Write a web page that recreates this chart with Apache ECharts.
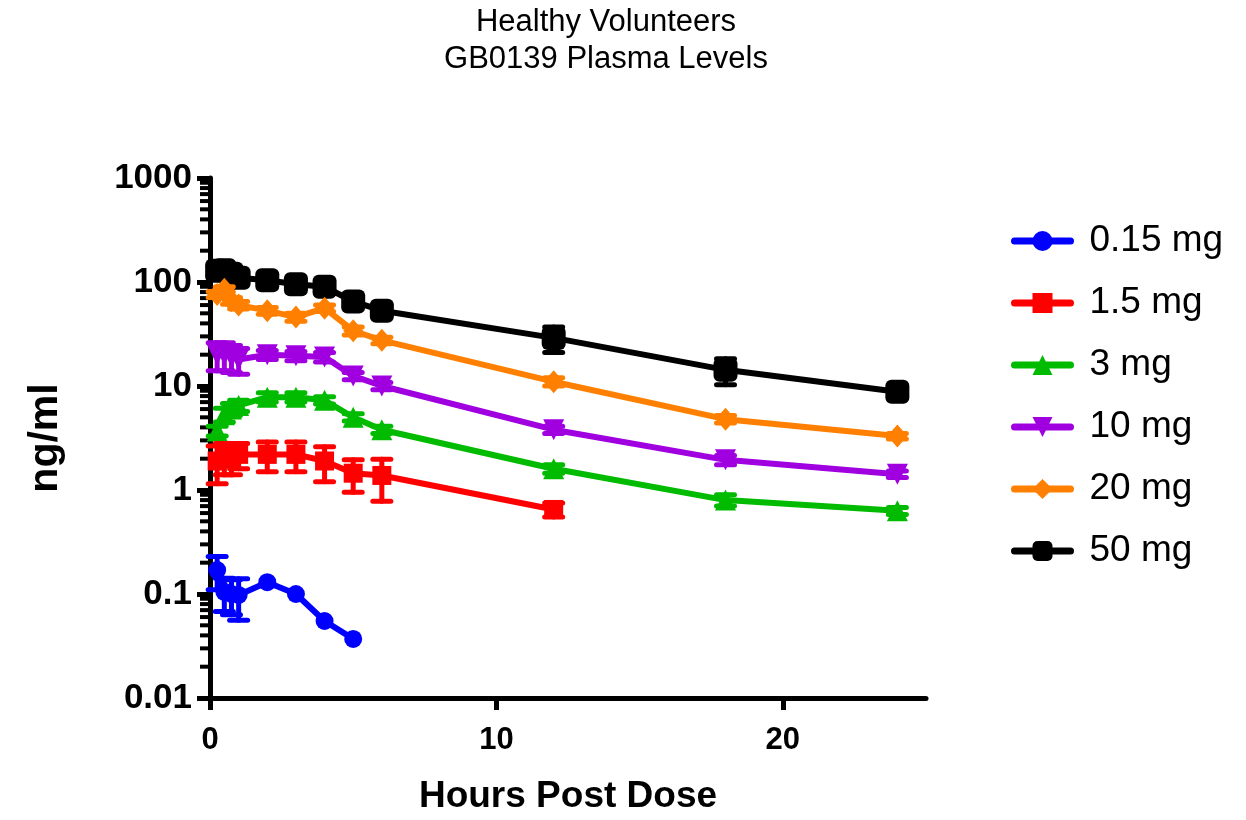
<!DOCTYPE html>
<html>
<head>
<meta charset="utf-8">
<title>GB0139 Plasma Levels</title>
<script src="https://cdn.jsdelivr.net/npm/echarts@6/dist/echarts.min.js"></script>
<style>
  html, body { margin: 0; padding: 0; background: #fff; }
  #chart { width: 1246px; height: 820px; }
</style>
</head>
<body>
<div id="chart"></div>
<script>
// sampling times (hours post dose)
const times = [0.25, 0.5, 0.75, 1, 2, 3, 4, 5, 6, 12, 18, 24];
const doseNames = ['0.15 mg', '1.5 mg', '3 mg', '10 mg', '20 mg', '50 mg'];

// mean plasma levels (ng/ml) and SD per dose
const mean015 = [0.17, 0.105, 0.10, 0.098, 0.13, 0.10, 0.055, 0.037];
const sd015 = [0.06, 0.037, 0.037, 0.042, 0, 0, 0, 0];
const mean15 = [1.9, 2.1, 2.0, 2.2, 2.2, 2.2, 1.9, 1.45, 1.38, 0.65];
const sd15 = [0.75, 0.7, 0.6, 0.6, 0.7, 0.7, 0.7, 0.5, 0.6, 0.1];
const mean3 = [3.7, 5.3, 6.0, 6.5, 7.8, 7.8, 7.3, 5.0, 3.8, 1.6, 0.8, 0.63];
const sd3 = [0.4, 0.8, 0.8, 0.8, 0.8, 0.8, 0.6, 0.4, 0.3, 0.15, 0.1, 0.05];
const mean10 = [20, 20, 19, 18, 20, 19.5, 19, 12.5, 10, 3.8, 1.95, 1.42];
const sd10 = [6, 6, 5.5, 5, 2, 2, 2, 1, 0.8, 0.3, 0.2, 0.1];
const mean20 = [76, 85, 66, 60, 53, 46, 56, 34, 27.5, 11, 4.8, 3.3];
const sd20 = [5, 5, 5, 5, 4, 4, 4, 3, 2, 1, 0.4, 0.2];
const mean50 = [128, 130, 120, 110, 104, 95, 90, 65, 53, 29, 14.3, 8.8];
const sd50 = [12, 12, 10, 10, 8, 8, 8, 7, 7, 8, 4, 1];

const xTicks = [0, 10, 20];
const yMin = 0.01, yMax = 1000;

const colors = ['#0000ff', '#ff0000', '#00bb00', '#a000e0', '#ff8000', '#000000'];
const symbols = ['circle', 'rect', 'triangle', 'triangle', 'diamond', 'roundRect'];
const symbolSizes = [18, 19, 21, 21, [20, 23], 24];
const symbolRotates = [0, 0, 0, 180, 0, 0];
const means = [mean015, mean15, mean3, mean10, mean20, mean50];
const sds = [sd015, sd15, sd3, sd10, sd20, sd50];

// minor ticks at 2..9 of each decade
const minorTicks = [];
for (let d = -2; d < 3; d++) {
  for (let k = 2; k <= 9; k++) minorTicks.push(+(k * Math.pow(10, d)).toPrecision(3));
}

const font = "'Liberation Sans', Arial, sans-serif";

const chart = echarts.init(document.getElementById('chart'));

const series = [];
means.forEach((m, i) => {
  const z = 10 - i;
  series.push({
    name: doseNames[i],
    type: 'line',
    data: m.map((v, j) => [times[j], v]),
    symbol: symbols[i],
    symbolSize: symbolSizes[i],
    symbolRotate: symbolRotates[i],
    showAllSymbol: true,
    color: colors[i],
    lineStyle: { width: 6, color: colors[i] },
    itemStyle: { color: colors[i] },
    z: z,
    animation: false
  });
  // error bars (mean ± SD)
  series.push({
    type: 'custom',
    z: z,
    silent: true,
    data: m.map((v, j) => [times[j], v - sds[i][j], v + sds[i][j]]).filter((r, j) => sds[i][j] > 0),
    encode: { x: 0, y: [1, 2] },
    renderItem: function (params, api) {
      const lo = api.coord([api.value(0), api.value(1)]);
      const hi = api.coord([api.value(0), api.value(2)]);
      const w = 9;
      const st = { stroke: colors[i], lineWidth: 5, lineCap: 'round' };
      return {
        type: 'group',
        children: [
          { type: 'line', shape: { x1: lo[0], y1: lo[1], x2: hi[0], y2: hi[1] }, style: st },
          { type: 'line', shape: { x1: lo[0] - w, y1: lo[1], x2: lo[0] + w, y2: lo[1] }, style: st },
          { type: 'line', shape: { x1: hi[0] - w, y1: hi[1], x2: hi[0] + w, y2: hi[1] }, style: st }
        ]
      };
    },
    animation: false
  });
});

// minor ticks on the log axis
series.push({
  type: 'custom',
  silent: true,
  data: minorTicks.map(v => [0, v]),
  encode: { x: 0, y: 1 },
  renderItem: function (params, api) {
    const p = api.coord([0, api.value(1)]);
    return {
      type: 'line',
      shape: { x1: p[0] - 10, y1: p[1], x2: p[0], y2: p[1] },
      style: { stroke: '#000', lineWidth: 4 }
    };
  },
  z: 1,
  animation: false
});

chart.setOption({
  backgroundColor: '#fff',
  textStyle: { fontFamily: font },
  title: {
    text: 'Healthy Volunteers\nGB0139 Plasma Levels',
    left: 601,
    top: -1,
    textAlign: 'center',
    textStyle: { fontSize: 31, fontWeight: 'normal', color: '#000', lineHeight: 37, fontFamily: font }
  },
  legend: {
    data: doseNames,
    orient: 'vertical',
    left: 1006,
    top: 216,
    itemWidth: 56,
    itemHeight: 25,
    itemGap: 22,
    lineStyle: { width: 7, cap: 'round' },
    textStyle: { fontSize: 37, lineHeight: 40, color: '#000', fontFamily: font, padding: [0, 0, 0, 14] }
  },
  grid: { left: 210, right: 320, top: 178, bottom: 118 },
  xAxis: {
    type: 'value',
    min: 0,
    max: 25,
    name: 'Hours Post Dose',
    nameLocation: 'middle',
    nameGap: 80,
    nameTextStyle: { fontSize: 37, fontWeight: 'bold', color: '#000', fontFamily: font },
    axisLine: { onZero: false, lineStyle: { color: '#000', width: 5 } },
    axisTick: { length: 12, lineStyle: { color: '#000', width: 5 }, customValues: xTicks },
    axisLabel: { fontSize: 31, fontWeight: 'bold', color: '#000', margin: 27, customValues: xTicks },
    splitLine: { show: false }
  },
  yAxis: {
    type: 'log',
    logBase: 10,
    min: yMin,
    max: yMax,
    name: 'ng/ml',
    nameLocation: 'middle',
    nameGap: 144,
    nameTextStyle: { fontSize: 41, fontWeight: 'bold', color: '#000', fontFamily: font },
    axisLine: { onZero: false, lineStyle: { color: '#000', width: 5 } },
    axisTick: { length: 13, lineStyle: { color: '#000', width: 5 } },
    axisLabel: { fontSize: 35, fontWeight: 'bold', color: '#000', margin: 18,
      formatter: v => String(+v.toPrecision(3)) },
    splitLine: { show: false }
  },
  series: series
});
</script>
</body>
</html>
